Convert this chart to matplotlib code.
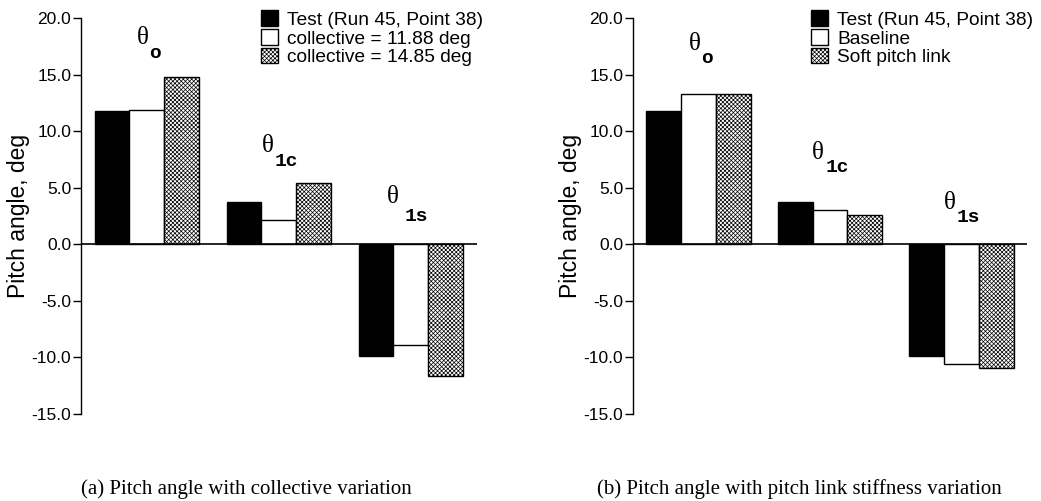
import numpy as np
import matplotlib
matplotlib.use("Agg")
import matplotlib.pyplot as plt
from matplotlib.patches import Patch

plt.rcParams['font.family'] = ['Liberation Sans', 'DejaVu Sans']
plt.rcParams['hatch.linewidth'] = 0.5

# data
groups = ["o", "1c", "1s"]
test_vals = [11.8, 3.78, -9.85]
coll_1188 = [11.9, 2.18, -8.93]
coll_1485 = [14.78, 5.43, -11.65]
baseline = [13.28, 3.0, -10.6]
soft_link = [13.28, 2.6, -10.95]

legend_a = ["Test (Run 45, Point 38)", "collective = 11.88 deg", "collective = 14.85 deg"]
legend_b = ["Test (Run 45, Point 38)", "Baseline", "Soft pitch link"]
yticks = [-15.0, -10.0, -5.0, 0.0, 5.0, 10.0, 15.0, 20.0]
captions = ["(a) Pitch angle with collective variation",
            "(b) Pitch angle with pitch link stiffness variation"]

# label positions (data coords): theta centre, subscript centre
lab_a = [((-0.034, 18.27), (0.064, 16.86)),
         ((0.913, 8.69), (1.057, 7.33)),
         ((1.864, 4.19), (2.042, 2.47))]
lab_b = [((-0.03, 17.7), (0.061, 16.42)),
         ((0.909, 8.08), (1.053, 6.84)),
         ((1.909, 3.62), (2.057, 2.34))]

fig = plt.figure(figsize=(10.41, 5.01), dpi=100)
ax_a = fig.add_axes([0.0778, 0.1737, 0.3804, 0.7898])
ax_b = fig.add_axes([0.6081, 0.1737, 0.3785, 0.7898])

w = 0.265
x = np.arange(len(groups))
mono = ["Liberation Mono", "Courier New", "DejaVu Sans Mono"]
HATCH = "xxxxxxxx"


def draw(ax, series, labels, labpos, leg_x):
    styles = [dict(color="black", edgecolor="black"),
              dict(color="white", edgecolor="black"),
              dict(color="white", edgecolor="black", hatch=HATCH)]
    for k, (vals, st) in enumerate(zip(series, styles)):
        ax.bar(x + (k - 1) * w, vals, w, linewidth=1.0, zorder=2, **st)
    ax.axhline(0, color="black", lw=1.2, zorder=3)
    ax.set_xlim(-0.5, 2.5)
    ax.set_ylim(-15, 20)
    for s in ["top", "right", "bottom"]:
        ax.spines[s].set_visible(False)
    ax.spines["left"].set_linewidth(1.0)
    ax.set_xticks([])
    ax.set_yticks(yticks)
    ax.set_yticklabels([f"{t:.1f}" for t in yticks])
    ax.tick_params(axis="y", direction="out", length=6, width=1, labelsize=12.5, pad=1)
    ax.set_ylabel("Pitch angle, deg", fontsize=16.5, labelpad=1)

    for g, (tpos, spos) in zip(groups, labpos):
        ax.text(*tpos, "\u03b8", family="Liberation Serif", fontsize=18,
                ha="center", va="center")
        ax.text(*spos, g, family=mono, fontweight="bold", fontsize=14,
                ha="center", va="center")

    handles = [Patch(facecolor="black", edgecolor="black"),
               Patch(facecolor="white", edgecolor="black"),
               Patch(facecolor="white", edgecolor="black", hatch=HATCH)]
    ax.legend(handles, labels, loc="upper left", bbox_to_anchor=(leg_x, 1.02),
              frameon=False, fontsize=13.8, borderpad=0, borderaxespad=0,
              handlelength=0.9, handleheight=0.9, handletextpad=0.45,
              labelspacing=0.0)


draw(ax_a, [test_vals, coll_1188, coll_1485], legend_a, lab_a, 0.4545)
draw(ax_b, [test_vals, baseline, soft_link], legend_b, lab_b, 0.4518)

fig.text(246 / 1041, 0.024, captions[0], family="Liberation Serif", fontsize=15,
         ha="center", va="center")
fig.text(799.5 / 1041, 0.024, captions[1], family="Liberation Serif", fontsize=15,
         ha="center", va="center")

fig.savefig("out.png", dpi=100)
